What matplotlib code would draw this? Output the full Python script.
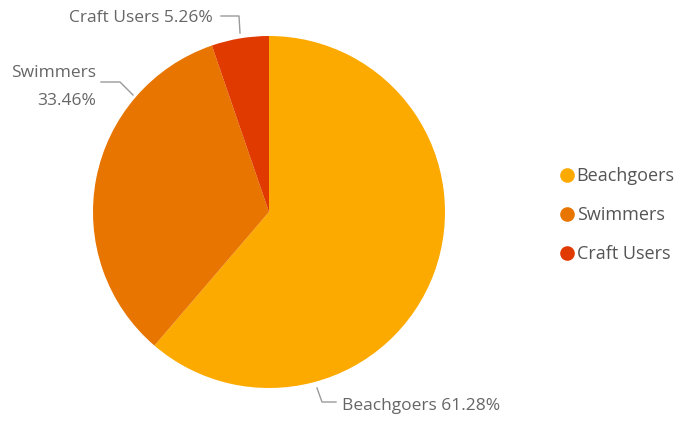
import matplotlib.pyplot as plt
from matplotlib.lines import Line2D

# Datos ---------------------------------------------------------------
grupos = ["Beachgoers", "Swimmers", "Craft Users"]
porcentajes = [61.28, 33.46, 5.26]
colores = ["#FDAA00", "#E87500", "#E03A00"]

# Grafico -------------------------------------------------------------
plt.rcParams["font.family"] = ["Open Sans", "DejaVu Sans"]
fig = plt.figure(figsize=(6.81, 4.21), dpi=100)
ax = fig.add_axes([0, 0, 1, 1])

cx, cy, r = 269, 209, 176
ax.pie(porcentajes, colors=colores, startangle=90, counterclock=False,
       center=(cx, cy), radius=r, frame=True,
       wedgeprops=dict(linewidth=0))
ax.set_xlim(0, 681)
ax.set_ylim(0, 421)
ax.set_aspect("equal")
ax.axis("off")

gris_linea = "#9a9a9a"
gris_texto = "#666666"

# etiquetas con lineas guia
ax.plot([240, 239, 221], [388, 405, 405], color=gris_linea, lw=1)
ax.text(213, 403, f"{grupos[2]} {porcentajes[2]:.2f}%", ha="right", va="center",
        fontsize=12.5, color=gris_texto)

ax.plot([133, 120, 101], [326, 339, 339], color=gris_linea, lw=1)
ax.text(96, 348, grupos[1], ha="right", va="center",
        fontsize=12.5, color=gris_texto)
ax.text(96, 320, f"{porcentajes[1]:.2f}%", ha="right", va="center",
        fontsize=12.5, color=gris_texto)

ax.plot([317, 322, 336], [33, 19, 19], color=gris_linea, lw=1)
ax.text(342, 15, f"{grupos[0]} {porcentajes[0]:.2f}%", ha="left", va="center",
        fontsize=12.5, color=gris_texto)

manijas = [Line2D([], [], marker="o", linestyle="", markersize=9.5,
                  markerfacecolor=c, markeredgecolor=c) for c in colores]
ax.legend(manijas, grupos, loc="center left", bbox_to_anchor=(560 / 681, 206 / 421),
          frameon=False, fontsize=13, labelcolor="#555555",
          handlelength=0.8, handletextpad=0.12, labelspacing=1.16,
          borderaxespad=0, borderpad=0)

fig.savefig("out.png", dpi=100, facecolor="white")
